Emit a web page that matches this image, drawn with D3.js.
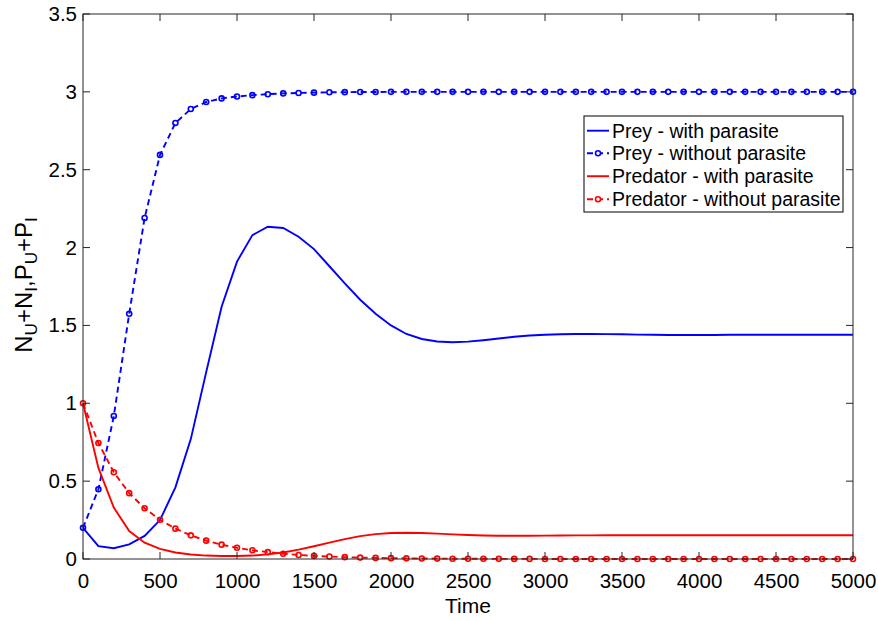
<!DOCTYPE html>
<html>
<head>
<meta charset="utf-8">
<script src="https://cdn.jsdelivr.net/npm/d3@7"></script>
<style>
  html, body { margin: 0; padding: 0; background: #fff; }
  text { font-family: "Liberation Sans", Arial, Helvetica, sans-serif; }
</style>
</head>
<body>
<svg id="chart" width="878" height="621"></svg>
<script>
// ---- data ----
const time = d3.range(0, 5001, 100);
const preyWith = [0.2, 0.083, 0.069, 0.094, 0.148, 0.25, 0.46, 0.77, 1.2, 1.62,
  1.91, 2.08, 2.134, 2.126, 2.07, 1.99, 1.88, 1.77, 1.665, 1.575,
  1.50, 1.445, 1.413, 1.397, 1.392, 1.396, 1.405, 1.416, 1.427, 1.435,
  1.44, 1.443, 1.445, 1.445, 1.444, 1.443, 1.441, 1.44, 1.439, 1.439,
  1.439, 1.439, 1.44, 1.44, 1.44, 1.44, 1.44, 1.44, 1.44, 1.44, 1.44];
const preyWithout = [0.2, 0.448, 0.918, 1.575, 2.19, 2.595, 2.80, 2.89, 2.935, 2.958,
  2.97, 2.979, 2.985, 2.99, 2.993, 2.995, 2.997, 2.998, 2.999, 2.999,
  3.0, 3.0, 3.0, 3.0, 3.0, 3.0, 3.0, 3.0, 3.0, 3.0,
  3.0, 3.0, 3.0, 3.0, 3.0, 3.0, 3.0, 3.0, 3.0, 3.0,
  3.0, 3.0, 3.0, 3.0, 3.0, 3.0, 3.0, 3.0, 3.0, 3.0, 3.0];
const predWith = [1.0, 0.585, 0.33, 0.18, 0.105, 0.065, 0.042, 0.029, 0.022, 0.019,
  0.019, 0.022, 0.03, 0.042, 0.06, 0.082, 0.105, 0.128, 0.147, 0.16,
  0.167, 0.169, 0.167, 0.163, 0.158, 0.154, 0.151, 0.149, 0.149, 0.149,
  0.15, 0.151, 0.152, 0.152, 0.153, 0.153, 0.153, 0.153, 0.153, 0.153,
  0.153, 0.153, 0.153, 0.153, 0.153, 0.153, 0.153, 0.153, 0.153, 0.153, 0.153];
const predWithout = [1.0, 0.745, 0.557, 0.423, 0.326, 0.252, 0.195, 0.152, 0.118, 0.092,
  0.072, 0.056, 0.044, 0.034, 0.026, 0.02, 0.016, 0.012, 0.009, 0.007,
  0.0055, 0.0043, 0.0033, 0.0026, 0.002, 0.0016, 0.0012, 0.001, 0.0007, 0.0006,
  0.0004, 0.0003, 0.0003, 0.0002, 0.0002, 0.0001, 0.0001, 0.0001, 0.0001, 0.0,
  0.0, 0.0, 0.0, 0.0, 0.0, 0.0, 0.0, 0.0, 0.0, 0.0, 0.0];
const xTicks = [0, 500, 1000, 1500, 2000, 2500, 3000, 3500, 4000, 4500, 5000];
const yTicks = [0, 0.5, 1, 1.5, 2, 2.5, 3, 3.5];
const seriesNames = ["Prey - with parasite", "Prey - without parasite",
  "Predator - with parasite", "Predator - without parasite"];

// ---- layout ----
const svg = d3.select("#chart");
const L = 83, R = 853, T = 14, B = 559;
const x = d3.scaleLinear().domain([0, 5000]).range([L, R]);
const y = d3.scaleLinear().domain([0, 3.5]).range([B, T]);
const axisColor = "#262626";
const tickFs = 20.5, legendFs = 19.5, labelFs = 21;
const lw = 1.9;

const series = [
  { name: seriesNames[0], vals: preyWith, color: "#0000ff", dashed: false },
  { name: seriesNames[1], vals: preyWithout, color: "#0000ff", dashed: true },
  { name: seriesNames[2], vals: predWith, color: "#ff0000", dashed: false },
  { name: seriesNames[3], vals: predWithout, color: "#ff0000", dashed: true }
];

const line = d3.line().x((d, i) => x(time[i])).y(d => y(d));

const plot = svg.append("g");
series.forEach(s => {
  plot.append("path")
    .attr("d", line(s.vals))
    .attr("fill", "none")
    .attr("stroke", s.color)
    .attr("stroke-width", lw)
    .attr("stroke-dasharray", s.dashed ? "6,4" : null);
  if (s.dashed) {
    plot.selectAll(null).data(s.vals).enter().append("circle")
      .attr("cx", (d, i) => x(time[i]))
      .attr("cy", d => y(d))
      .attr("r", 2.5)
      .attr("fill", "none")
      .attr("stroke", s.color)
      .attr("stroke-width", 1.6);
  }
});

// axes
const ax = svg.append("g");
const bottomAxis = d3.axisBottom(x).tickValues(xTicks).tickSize(0).tickPadding(0).tickFormat(d3.format("d"));
const leftAxis = d3.axisLeft(y).tickValues(yTicks).tickSize(0).tickPadding(6).tickFormat(d => d);
const gb = ax.append("g").attr("transform", `translate(0,${B})`).call(bottomAxis);
const gl = ax.append("g").attr("transform", `translate(${L},0)`).call(leftAxis);
[gb, gl].forEach(g => {
  g.select(".domain").remove();
  g.selectAll("text").attr("font-size", tickFs).attr("fill", "#000")
    .style("font-family", "'Liberation Sans', Arial, sans-serif");
});
gb.selectAll("text").attr("y", 29).attr("dy", 0);

// inward ticks on all sides
const tl = 7;
xTicks.forEach(t => {
  ax.append("line").attr("x1", x(t)).attr("x2", x(t)).attr("y1", B).attr("y2", B - tl).attr("stroke", axisColor);
  ax.append("line").attr("x1", x(t)).attr("x2", x(t)).attr("y1", T).attr("y2", T + tl).attr("stroke", axisColor);
});
yTicks.forEach(t => {
  ax.append("line").attr("x1", L).attr("x2", L + tl).attr("y1", y(t)).attr("y2", y(t)).attr("stroke", axisColor);
  ax.append("line").attr("x1", R).attr("x2", R - tl).attr("y1", y(t)).attr("y2", y(t)).attr("stroke", axisColor);
});
ax.append("rect").attr("x", L).attr("y", T).attr("width", R - L).attr("height", B - T)
  .attr("fill", "none").attr("stroke", axisColor).attr("stroke-width", 1);

// axis labels
svg.append("text").attr("x", (L + R) / 2).attr("y", 613).attr("text-anchor", "middle")
  .attr("font-size", labelFs).text("Time");

const yl = svg.append("text").attr("transform", `translate(32,285) rotate(-90)`)
  .attr("text-anchor", "middle").attr("font-size", 24);
const parts = [["N", false], ["U", true], ["+N", false], ["I", true], [",P", false], ["U", true], ["+P", false], ["I", true]];
parts.forEach(([t, sub]) => {
  yl.append("tspan").text(t)
    .attr("font-size", sub ? 17 : 24)
    .attr("baseline-shift", sub ? "-28%" : null);
});

// legend
const lg = svg.append("g");
const lx = 584, ly = 116, lW = 259, lH = 96;
lg.append("rect").attr("x", lx).attr("y", ly).attr("width", lW).attr("height", lH)
  .attr("fill", "#fff").attr("stroke", "#000").attr("stroke-width", 1);
const rowY = [130.7, 153.3, 176.2, 199.3];
series.forEach((s, i) => {
  const yy = rowY[i];
  lg.append("line").attr("x1", 587).attr("x2", 609).attr("y1", yy).attr("y2", yy)
    .attr("stroke", s.color).attr("stroke-width", lw)
    .attr("stroke-dasharray", s.dashed ? "6,4" : null);
  if (s.dashed) {
    lg.append("circle").attr("cx", 598).attr("cy", yy).attr("r", 2.5)
      .attr("fill", "#fff").attr("stroke", s.color).attr("stroke-width", 1.6);
  }
  lg.append("text").attr("x", 612).attr("y", yy + 6.8).attr("font-size", legendFs).text(s.name);
});
</script>
</body>
</html>
